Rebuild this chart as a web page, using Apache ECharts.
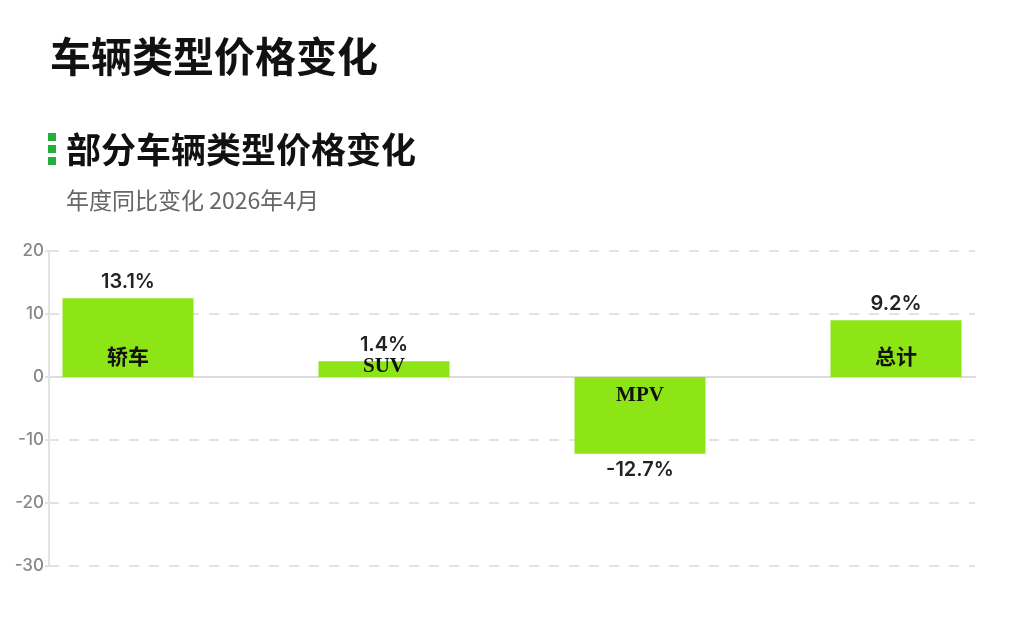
<!DOCTYPE html>
<html>
<head>
<meta charset="utf-8">
<script src="https://cdn.jsdelivr.net/npm/echarts@6/dist/echarts.min.js"></script>
<style>
  html, body { margin: 0; padding: 0; background: #fff; }
  #chart { width: 1024px; height: 619px; }
</style>
</head>
<body>
<div id="chart"></div>
<script>
// data
const categories = ['轿车', 'SUV', 'MPV', '总计'];
const barValues = [12.5, 2.5, -12.2, 9.0];
const valueLabels = ['13.1%', '1.4%', '-12.7%', '9.2%'];
const yTicks = { min: -30, max: 20, interval: 10 };

const chartDom = document.getElementById('chart');
const myChart = echarts.init(chartDom);

const barColor = '#8ee516';
const sansFont = 'Inter, "Noto Sans CJK SC", sans-serif';
const cjkSans = '"Noto Sans CJK SC", sans-serif';
const serifFont = '"Liberation Serif", "Noto Sans CJK SC", serif';

// category names sit inside the bar, near the zero line
const nameData = barValues.map((v, i) => ({
  value: v,
  label: {
    position: v >= 0 ? 'insideBottom' : 'insideTop',
    distance: Math.abs(v) < 5 ? 0 : 8,
    formatter: categories[i]
  }
}));

// value labels outside the bar end
const valueData = barValues.map((v, i) => ({
  value: v,
  label: {
    position: v >= 0 ? 'top' : 'bottom',
    formatter: valueLabels[i]
  }
}));

const option = {
  backgroundColor: '#fff',
  animation: false,
  title: [
    {
      text: '车辆类型价格变化',
      left: 45,
      top: 36,
      textStyle: { fontSize: 41, fontWeight: 'bold', color: '#111', fontFamily: serifFont }
    },
    {
      text: '部分车辆类型价格变化',
      left: 61,
      top: 131,
      textStyle: { fontSize: 35, fontWeight: 'bold', color: '#111', fontFamily: serifFont }
    },
    {
      text: '年度同比变化 2026年4月',
      left: 61,
      top: 184,
      textStyle: { fontSize: 23, fontWeight: 'normal', color: '#666', fontFamily: cjkSans }
    }
  ],
  graphic: [
    { type: 'rect', left: 48, top: 133, shape: { width: 8, height: 8 }, style: { fill: '#22b03a' } },
    { type: 'rect', left: 48, top: 145, shape: { width: 8, height: 8 }, style: { fill: '#22b03a' } },
    { type: 'rect', left: 48, top: 157, shape: { width: 8, height: 8 }, style: { fill: '#22b03a' } }
  ],
  grid: [
    { left: 49, right: 49, top: 251, bottom: 53 },
    { left: 0, right: 0, top: 251, bottom: 53 }
  ],
  xAxis: [
    {
      type: 'category',
      gridIndex: 0,
      data: categories,
      axisLine: { show: true, onZero: true, lineStyle: { color: '#dddddd', width: 2 } },
      axisTick: { show: false },
      axisLabel: { show: false }
    },
    {
      type: 'category',
      gridIndex: 1,
      data: categories,
      show: false
    }
  ],
  yAxis: [
    {
      type: 'value',
      gridIndex: 0,
      min: yTicks.min,
      max: yTicks.max,
      interval: yTicks.interval,
      axisLine: { show: true, lineStyle: { color: '#e3e3e3', width: 2 } },
      axisTick: { show: true, length: 4, lineStyle: { color: '#e3e3e3', width: 2 } },
      axisLabel: { color: '#888', fontSize: 17, fontWeight: 500, fontFamily: sansFont, margin: 5 },
      splitLine: { show: true, lineStyle: { color: '#e3e3e3', type: [10, 10], width: 2 } }
    },
    {
      type: 'value',
      gridIndex: 1,
      min: yTicks.min,
      max: yTicks.max,
      interval: yTicks.interval,
      show: false,
      splitLine: { show: false }
    }
  ],
  series: [
    {
      type: 'bar',
      xAxisIndex: 1,
      yAxisIndex: 1,
      barWidth: 131,
      data: valueData,
      itemStyle: { color: barColor },
      label: {
        show: true,
        distance: 6,
        color: '#222',
        fontSize: 20,
        fontWeight: 600,
        fontFamily: sansFont
      }
    },
    {
      type: 'bar',
      xAxisIndex: 1,
      yAxisIndex: 1,
      barWidth: 131,
      barGap: '-100%',
      data: nameData,
      itemStyle: { color: 'rgba(0,0,0,0)' },
      label: {
        show: true,
        color: '#111',
        fontSize: 21,
        fontWeight: 'bold',
        fontFamily: serifFont
      }
    }
  ]
};

myChart.setOption(option);
window.addEventListener('resize', () => myChart.resize());
</script>
</body>
</html>
